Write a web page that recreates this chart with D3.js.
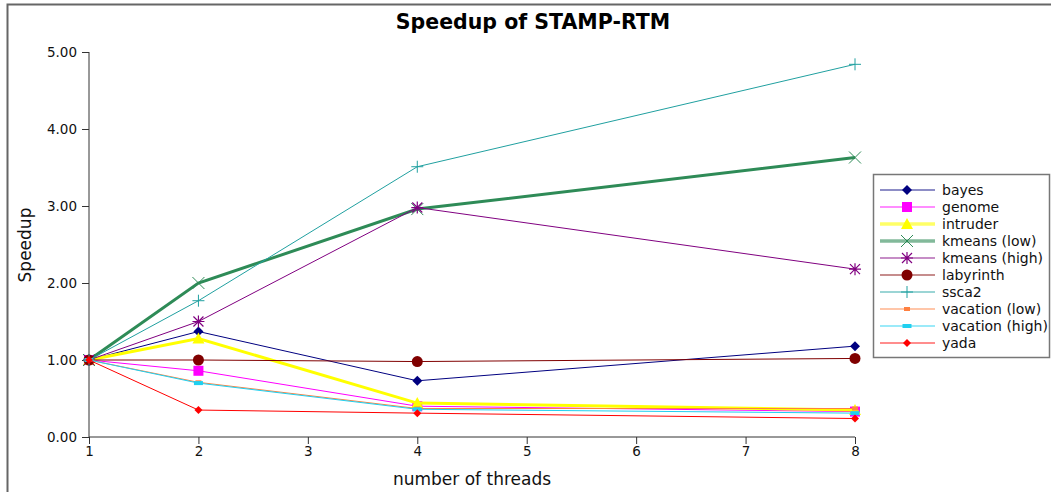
<!DOCTYPE html>
<html>
<head>
<meta charset="utf-8">
<script src="https://cdn.jsdelivr.net/npm/d3@7"></script>
<style>
  body { margin: 0; background: #fff; }
  svg { font-family: "DejaVu Sans", sans-serif; }
</style>
</head>
<body>
<div id="chart"></div>
<script>
// data
var threads = [1, 2, 4, 8];
var seriesNames = ["bayes", "genome", "intruder", "kmeans (low)", "kmeans (high)",
                   "labyrinth", "ssca2", "vacation (low)", "vacation (high)", "yada"];
var bayes        = [1.00, 1.37, 0.73, 1.18];
var genome       = [1.00, 0.86, 0.40, 0.33];
var intruder     = [1.00, 1.28, 0.44, 0.35];
var kmeansLow    = [1.00, 2.00, 2.96, 3.63];
var kmeansHigh   = [1.00, 1.50, 2.98, 2.18];
var labyrinth    = [1.00, 1.00, 0.98, 1.02];
var ssca2        = [1.00, 1.77, 3.51, 4.84];
var vacationLow  = [1.00, 0.71, 0.37, 0.37];
var vacationHigh = [1.00, 0.70, 0.36, 0.31];
var yada         = [1.00, 0.35, 0.31, 0.24];
var yTicks = [0, 1, 2, 3, 4, 5];
var xTicks = [1, 2, 3, 4, 5, 6, 7, 8];

var allValues = [bayes, genome, intruder, kmeansLow, kmeansHigh,
                 labyrinth, ssca2, vacationLow, vacationHigh, yada];

// styling per series
var colors  = ["#000080", "#ff00ff", "#ffff00", "#2e8b57", "#800080",
               "#800000", "#20a0a0", "#ff8040", "#20d0f0", "#ff0000"];
var widths  = [1, 1, 3, 3, 1, 1, 1, 1, 1, 1];
var markers = ["diamond", "square", "triangle", "x", "star",
               "circle", "plus", "dashS", "dashL", "diamondS"];

var W = 1051, H = 492;
var svg = d3.select("#chart").append("svg")
    .attr("width", W).attr("height", H);

// outer frame
svg.append("rect")
    .attr("x", 7.5).attr("y", 4.5)
    .attr("width", W + 10).attr("height", H + 10)
    .attr("fill", "none").attr("stroke", "#666").attr("stroke-width", 2);

var x = d3.scaleLinear().domain([1, 8]).range([89, 855]);
var y = d3.scaleLinear().domain([0, 5]).range([437, 52]);

// axes
var yAxis = svg.append("g")
    .attr("transform", "translate(89,0)")
    .call(d3.axisLeft(y).tickValues(yTicks).tickFormat(d3.format(".2f")).tickSize(7).tickPadding(5));
var xAxis = svg.append("g")
    .attr("transform", "translate(0,437)")
    .call(d3.axisBottom(x).tickValues(xTicks).tickFormat(d3.format("d")).tickSize(7).tickPadding(2));

[yAxis, xAxis].forEach(function(a) {
  a.select(".domain").attr("stroke", "#333");
  a.selectAll(".tick line").attr("stroke", "#333");
  a.selectAll(".tick text").attr("fill", "#111")
    .style("font-size", "13.5px").style("font-family", "DejaVu Sans");
});
xAxis.select(".domain").attr("d", "M89,0H855");
yAxis.select(".domain").attr("d", "M0,52V437");

// titles
svg.append("text").attr("x", 533).attr("y", 29)
    .attr("text-anchor", "middle").style("font-size", "20.5px").style("font-weight", "bold")
    .text("Speedup of STAMP-RTM");
svg.append("text").attr("x", 472).attr("y", 485)
    .attr("text-anchor", "middle").style("font-size", "17px").attr("fill", "#111")
    .text("number of threads");
svg.append("text")
    .attr("transform", "translate(31,245) rotate(-90)")
    .attr("text-anchor", "middle").style("font-size", "17px").attr("fill", "#111")
    .text("Speedup");

function drawMarker(g, kind, cx, cy, color) {
  if (kind == "diamond") {
    g.append("path").attr("d", "M" + cx + "," + (cy - 5) + "L" + (cx + 5) + "," + cy + "L" + cx + "," + (cy + 5) + "L" + (cx - 5) + "," + cy + "Z").attr("fill", color);
  } else if (kind == "diamondS") {
    g.append("path").attr("d", "M" + cx + "," + (cy - 4) + "L" + (cx + 4) + "," + cy + "L" + cx + "," + (cy + 4) + "L" + (cx - 4) + "," + cy + "Z").attr("fill", color);
  } else if (kind == "square") {
    g.append("rect").attr("x", cx - 5).attr("y", cy - 5).attr("width", 10).attr("height", 10).attr("fill", color);
  } else if (kind == "triangle") {
    g.append("path").attr("d", "M" + cx + "," + (cy - 6) + "L" + (cx + 6) + "," + (cy + 5) + "L" + (cx - 6) + "," + (cy + 5) + "Z").attr("fill", color);
  } else if (kind == "x") {
    g.append("path").attr("d", "M" + (cx - 6) + "," + (cy - 6) + "L" + (cx + 6) + "," + (cy + 6) + "M" + (cx + 6) + "," + (cy - 6) + "L" + (cx - 6) + "," + (cy + 6))
      .attr("stroke", color).attr("stroke-width", 1);
  } else if (kind == "star") {
    g.append("path").attr("d", "M" + (cx - 5) + "," + (cy - 5) + "L" + (cx + 5) + "," + (cy + 5) + "M" + (cx + 5) + "," + (cy - 5) + "L" + (cx - 5) + "," + (cy + 5) +
      "M" + (cx - 6) + "," + cy + "L" + (cx + 6) + "," + cy + "M" + cx + "," + (cy - 6) + "L" + cx + "," + (cy + 6))
      .attr("stroke", color).attr("stroke-width", 1.2);
  } else if (kind == "circle") {
    g.append("circle").attr("cx", cx).attr("cy", cy).attr("r", 5.5).attr("fill", color);
  } else if (kind == "plus") {
    g.append("path").attr("d", "M" + (cx - 6) + "," + cy + "L" + (cx + 6) + "," + cy + "M" + cx + "," + (cy - 6) + "L" + cx + "," + (cy + 6))
      .attr("stroke", color).attr("stroke-width", 1);
  } else if (kind == "dashS") {
    g.append("rect").attr("x", cx - 3).attr("y", cy - 2).attr("width", 6).attr("height", 4).attr("fill", color);
  } else if (kind == "dashL") {
    g.append("rect").attr("x", cx - 4.5).attr("y", cy - 2).attr("width", 9).attr("height", 4).attr("fill", color);
  }
}

var line = d3.line()
    .x(function(d, i) { return x(threads[i]); })
    .y(function(d) { return y(d); });

// series
seriesNames.forEach(function(name, k) {
  var g = svg.append("g").attr("class", "series");
  g.append("path")
      .datum(allValues[k])
      .attr("d", line)
      .attr("fill", "none")
      .attr("stroke", colors[k])
      .attr("stroke-width", widths[k]);
  allValues[k].forEach(function(v, i) {
    drawMarker(g, markers[k], x(threads[i]), y(v), colors[k]);
  });
});

// legend
var leg = svg.append("g");
leg.append("rect").attr("x", 873.5).attr("y", 174.5).attr("width", 176).attr("height", 183)
    .attr("fill", "#fff").attr("stroke", "#777").attr("stroke-width", 1.5);
seriesNames.forEach(function(name, k) {
  var yy = 190 + k * 17;
  var row = leg.append("g");
  row.append("line").attr("x1", 880).attr("x2", 935).attr("y1", yy).attr("y2", yy)
      .attr("stroke", colors[k]).attr("stroke-width", widths[k] + 0.5).attr("stroke-opacity", 0.6);
  drawMarker(row, markers[k], 907, yy, colors[k]);
  row.append("text").attr("x", 942).attr("y", yy + 5)
      .style("font-size", "14px").attr("fill", "#111").text(name);
});
</script>
</body>
</html>
